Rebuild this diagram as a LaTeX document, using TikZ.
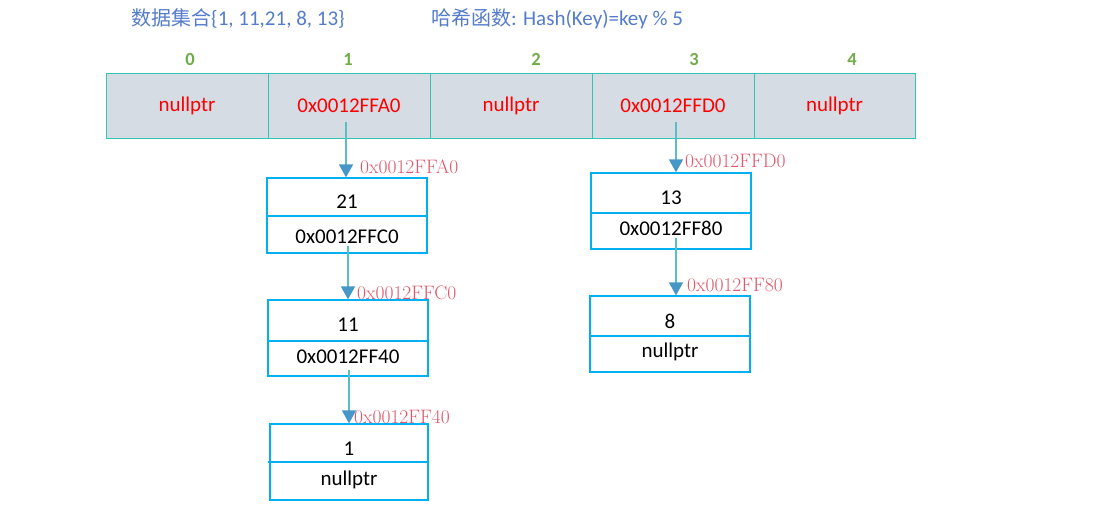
\documentclass[tikz,border=0pt]{standalone}
\usepackage{fontspec}
\newfontfamily\carl{Carlito}
\newfontfamily\cjk{Noto Sans CJK SC}
\usetikzlibrary{arrows.meta}
\definecolor{ttl}{RGB}{84,124,204}
\definecolor{idx}{RGB}{112,173,71}
\definecolor{cellfill}{RGB}{214,220,228}
\definecolor{celldraw}{RGB}{50,196,180}
\definecolor{boxdraw}{RGB}{0,176,240}
\definecolor{arrline}{RGB}{90,190,200}
\definecolor{arrtip}{RGB}{70,150,200}
\definecolor{addr}{RGB}{224,86,106}
\definecolor{cellred}{RGB}{255,0,0}
\tikzset{
  ttltext/.style={text=ttl,font=\carl\fontsize{21}{23}\selectfont,anchor=west,inner sep=0pt},
  idxtext/.style={text=idx,font=\carl\bfseries\fontsize{18.5}{20}\selectfont,inner sep=0pt},
  cell/.style={draw=celldraw,fill=cellfill,line width=1pt,minimum width=162pt,minimum height=64pt,inner sep=0pt,
    text=cellred,font=\carl\fontsize{21}{23}\selectfont},
  lbox/.style={draw=boxdraw,line width=1.3pt,minimum width=160pt,minimum height=76pt,inner sep=0pt},
  btext/.style={font=\carl\fontsize{21}{23}\selectfont,inner sep=0pt},
  arr/.style={draw=arrline,line width=1.8pt,-{Triangle[width=14pt,length=13pt,color=arrtip]}},
  addrtext/.style={text=addr,font=\fontsize{19.5}{21}\selectfont,anchor=west,inner sep=0pt},
}
\begin{document}
\begin{tikzpicture}[x=1pt,y=-1pt]
\useasboundingbox (0,0) rectangle (1093,511);
% titles
\node[ttltext] (t1) at (131,19) {{\cjk\fontsize{20}{22}\selectfont 数据集合}\{1, 11,21, 8, 13\}};
\node[ttltext] (t2) at (431,19) {{\cjk\fontsize{20}{22}\selectfont 哈希函数}: Hash(Key)=key \% 5};
% indices
\node[idxtext] (i0) at (190,59) {0};
\node[idxtext] (i1) at (348,59) {1};
\node[idxtext] (i2) at (536,59) {2};
\node[idxtext] (i3) at (694,59) {3};
\node[idxtext] (i4) at (852,59) {4};
% table cells
\node[cell] (c0) at (187,106) {nullptr};
\node[cell] (c1) at (349,106) {0x0012FFA0};
\node[cell] (c2) at (511,106) {nullptr};
\node[cell] (c3) at (673,106) {0x0012FFD0};
\node[cell,minimum width=161pt] (c4) at (834.5,106) {nullptr};
% list boxes
\node[lbox,minimum height=75pt] (n21) at (347,215.5) {};
\draw[boxdraw,line width=1.3pt] (n21.west |- 0,216) -- (n21.east |- 0,216);
\node[btext] (n21a) at (347,202) {21};
\node[btext] (n21b) at (347,237) {0x0012FFC0};

\node[lbox] (n11) at (348,338) {};
\draw[boxdraw,line width=1.3pt] (n11.west |- 0,341) -- (n11.east |- 0,341);
\node[btext] (n11a) at (348,325) {11};
\node[btext] (n11b) at (348,357) {0x0012FF40};

\node[lbox,minimum width=158pt] (n1) at (349,462) {};
\draw[boxdraw,line width=1.3pt] (268,462) -- (n1.east |- 0,462);
\node[btext] (n1a) at (349,449) {1};
\node[btext] (n1b) at (349,480) {nullptr};

\node[lbox] (n13) at (671,211) {};
\draw[boxdraw,line width=1.3pt] (n13.west |- 0,213) -- (n13.east |- 0,213);
\node[btext] (n13a) at (671,198) {13};
\node[btext] (n13b) at (671,228) {0x0012FF80};

\node[lbox] (n8) at (670,334) {};
\draw[boxdraw,line width=1.3pt] (n8.west |- 0,336) -- (n8.east |- 0,336);
\node[btext] (n8a) at (670,321) {8};
\node[btext] (n8b) at (670,352) {nullptr};
% arrows
\coordinate (s1) at (346,122);
\coordinate (s2) at (348,246);
\coordinate (s3) at (349,370);
\coordinate (s4) at (676,122);
\coordinate (s5) at (676,238);
\draw[arr] (s1) -- (s1 |- n21.north);
\draw[arr] (s2) -- (s2 |- n11.north);
\draw[arr] (s3) -- (s3 |- n1.north);
\draw[arr] (s4) -- (s4 |- n13.north);
\draw[arr] (s5) -- (s5 |- n8.north);
% address labels
\node[addrtext] (l1) at (360,167) {0x0012FFA0};
\node[addrtext] (l2) at (357,293) {0x0012FFC0};
\node[addrtext] (l3) at (354,417) {0x0012FF40};
\node[addrtext] (l4) at (685,161) {0x0012FFD0};
\node[addrtext] (l5) at (687,285) {0x0012FF80};
\end{tikzpicture}
\end{document}
